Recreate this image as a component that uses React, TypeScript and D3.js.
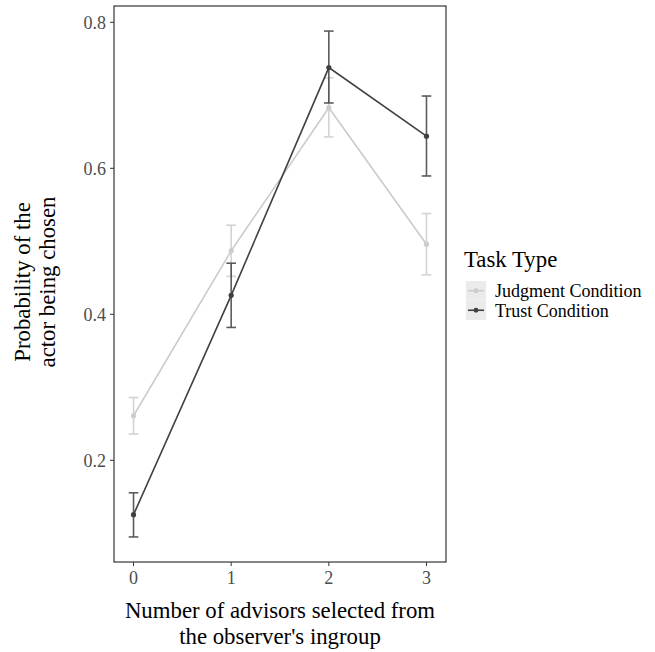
import React from "react";
import * as d3 from "d3";

const xValues = [0, 1, 2, 3];
const judgmentMean = [0.261, 0.487, 0.683, 0.496];
const judgmentLow = [0.236, 0.452, 0.643, 0.454];
const judgmentHigh = [0.286, 0.522, 0.724, 0.538];
const trustMean = [0.1255, 0.426, 0.738, 0.644];
const trustLow = [0.095, 0.382, 0.6895, 0.5895];
const trustHigh = [0.1555, 0.47, 0.788, 0.699];
const yTicks = [0.2, 0.4, 0.6, 0.8];
const seriesNames = ["Judgment Condition", "Trust Condition"];
const seriesColors = ["#cccccc", "#404040"];

const W = 655;
const H = 652;
const panel = { left: 114, right: 446, top: 6, bottom: 562 };
const font = "'Liberation Serif', 'DejaVu Serif', serif";

export default function App() {
  const x = d3.scaleLinear().domain([-0.2, 3.2]).range([panel.left, panel.right]);
  const y = d3
    .scaleLinear()
    .domain([0.8 - (562 - 22.3) / 730, 0.8 + (22.3 - 6) / 730])
    .range([panel.bottom, panel.top]);

  const series = [
    { name: seriesNames[0], color: seriesColors[0], mean: judgmentMean, lo: judgmentLow, hi: judgmentHigh },
    { name: seriesNames[1], color: seriesColors[1], mean: trustMean, lo: trustLow, hi: trustHigh },
  ];

  const line = d3
    .line<number>()
    .x((_, i) => x(xValues[i]))
    .y((d) => y(d));

  const capW = 4.8;
  const titleSize = 22.8;
  const tickSize = 18;

  return (
    <svg width={W} height={H} style={{ position: "absolute", left: 0, top: 0, background: "#fff" }}>
      <rect x={0} y={0} width={W} height={H} fill="#fff" />
      <rect
        x={panel.left}
        y={panel.top}
        width={panel.right - panel.left}
        height={panel.bottom - panel.top}
        fill="none"
        stroke="#222"
        strokeWidth={1.1}
      />
      {yTicks.map((t) => (
        <g key={"y" + t}>
          <line x1={panel.left - 4} x2={panel.left} y1={y(t)} y2={y(t)} stroke="#333" strokeWidth={1} />
          <text
            x={panel.left - 8}
            y={y(t)}
            dy="0.35em"
            textAnchor="end"
            fontFamily={font}
            fontSize={tickSize}
            fill="#4d4d4d"
          >
            {t.toFixed(1)}
          </text>
        </g>
      ))}
      {xValues.map((t) => (
        <g key={"x" + t}>
          <line x1={x(t)} x2={x(t)} y1={panel.bottom} y2={panel.bottom + 4} stroke="#333" strokeWidth={1} />
          <text
            x={x(t)}
            y={panel.bottom + 22}
            textAnchor="middle"
            fontFamily={font}
            fontSize={tickSize}
            fill="#4d4d4d"
          >
            {t}
          </text>
        </g>
      ))}
      {series.map((s) => (
        <g key={s.name}>
          <path d={line(s.mean) || ""} fill="none" stroke={s.color} strokeWidth={1.6} />
          {s.mean.map((m, i) => (
            <g key={i} stroke={s.color} strokeWidth={1.6} opacity={0.85}>
              <line x1={x(xValues[i])} x2={x(xValues[i])} y1={y(s.lo[i])} y2={y(s.hi[i])} />
              <line x1={x(xValues[i]) - capW} x2={x(xValues[i]) + capW} y1={y(s.lo[i])} y2={y(s.lo[i])} />
              <line x1={x(xValues[i]) - capW} x2={x(xValues[i]) + capW} y1={y(s.hi[i])} y2={y(s.hi[i])} />
            </g>
          ))}
          {s.mean.map((m, i) => (
            <circle key={"p" + i} cx={x(xValues[i])} cy={y(m)} r={2.6} fill={s.color} />
          ))}
        </g>
      ))}
      <text x={(panel.left + panel.right) / 2} y={618} textAnchor="middle" fontFamily={font} fontSize={titleSize} fill="#000">
        Number of advisors selected from
      </text>
      <text x={(panel.left + panel.right) / 2} y={644} textAnchor="middle" fontFamily={font} fontSize={titleSize} fill="#000">
        the observer's ingroup
      </text>
      <g transform={`translate(0, ${(panel.top + panel.bottom) / 2 - 2}) rotate(-90)`}>
        <text x={0} y={30} textAnchor="middle" fontFamily={font} fontSize={titleSize} fill="#000">
          Probability of the
        </text>
        <text x={0} y={55} textAnchor="middle" fontFamily={font} fontSize={titleSize} fill="#000">
          actor being chosen
        </text>
      </g>
      <text x={464} y={267} fontFamily={font} fontSize={titleSize} fill="#000">
        Task Type
      </text>
      {series.map((s, i) => (
        <g key={"leg" + i} transform={`translate(466, ${281 + i * 19.5})`}>
          <rect x={0} y={0} width={20} height={19.5} fill="#ebebeb" />
          <line x1={2} x2={18} y1={9.75} y2={9.75} stroke={s.color} strokeWidth={1.6} />
          <circle cx={10} cy={9.75} r={2.4} fill={s.color} />
          <text x={29} y={9.75} dy="0.35em" fontFamily={font} fontSize={tickSize} fill="#000">
            {s.name}
          </text>
        </g>
      ))}
    </svg>
  );
}
